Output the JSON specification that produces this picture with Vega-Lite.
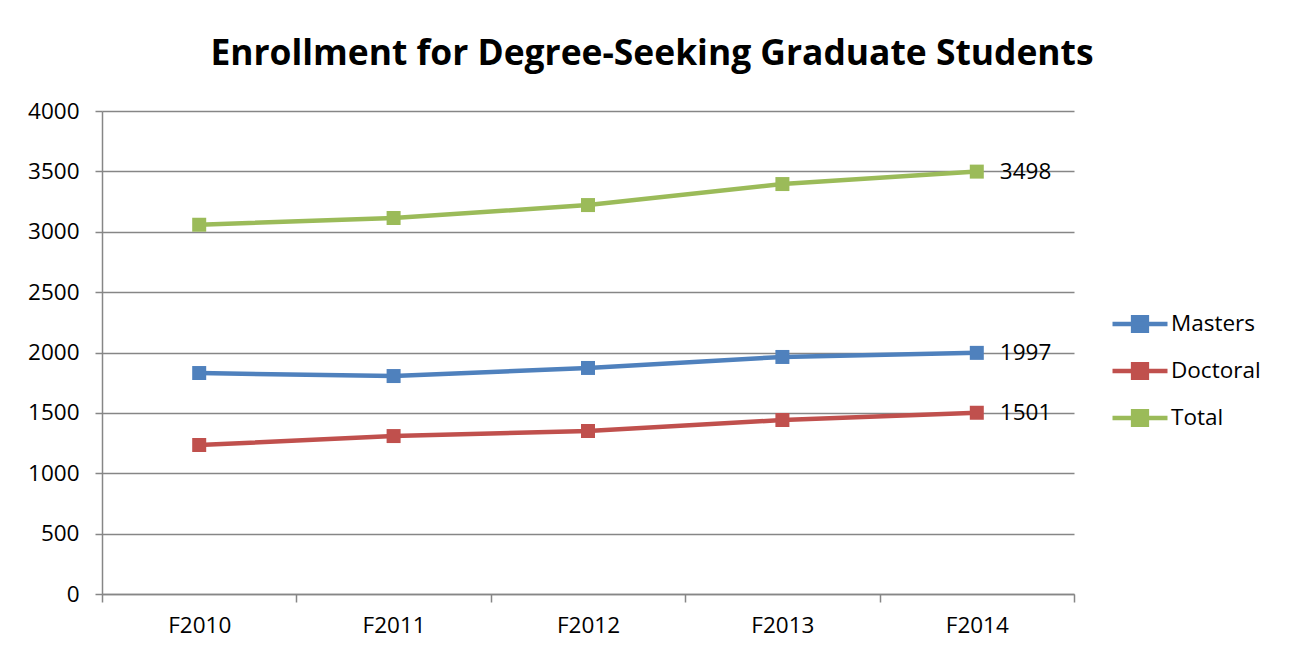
{
  "$schema": "https://vega.github.io/schema/vega-lite/v6.json",
  "autosize": "none",
  "width": 972,
  "height": 483,
  "padding": {"left": 102, "top": 111, "right": 226, "bottom": 65},
  "background": "white",
  "config": {
    "font": "Open Sans",
    "view": {"stroke": null},
    "axis": {
      "labelFont": "Open Sans",
      "labelFontSize": 22.5,
      "labelColor": "black",
      "domainColor": "#868686",
      "domainWidth": 1.5,
      "tickColor": "#868686",
      "tickWidth": 1.5,
      "gridColor": "#868686",
      "gridWidth": 1.5
    }
  },
  "title": {
    "text": "Enrollment for Degree-Seeking Graduate Students",
    "font": "Open Sans",
    "fontSize": 35.4,
    "fontWeight": "bold",
    "color": "black",
    "anchor": "middle",
    "dx": 64,
    "offset": 28
  },
  "data": {
    "values": [
      {"year": "F2010", "series": "Masters", "value": 1830},
      {"year": "F2011", "series": "Masters", "value": 1805},
      {"year": "F2012", "series": "Masters", "value": 1872},
      {"year": "F2013", "series": "Masters", "value": 1963},
      {"year": "F2014", "series": "Masters", "value": 1997},
      {"year": "F2010", "series": "Doctoral", "value": 1234},
      {"year": "F2011", "series": "Doctoral", "value": 1308},
      {"year": "F2012", "series": "Doctoral", "value": 1350},
      {"year": "F2013", "series": "Doctoral", "value": 1441},
      {"year": "F2014", "series": "Doctoral", "value": 1501},
      {"year": "F2010", "series": "Total", "value": 3058},
      {"year": "F2011", "series": "Total", "value": 3114},
      {"year": "F2012", "series": "Total", "value": 3221},
      {"year": "F2013", "series": "Total", "value": 3395},
      {"year": "F2014", "series": "Total", "value": 3498}
    ]
  },
  "encoding": {
    "x": {
      "field": "year",
      "type": "nominal",
      "title": null,
      "scale": {"type": "band", "paddingInner": 0, "paddingOuter": 0},
      "axis": {"labelAngle": 0, "tickBand": "extent", "tickSize": 8, "labelPadding": 12, "grid": false}
    },
    "y": {
      "field": "value",
      "type": "quantitative",
      "title": null,
      "scale": {"domain": [0, 4000], "nice": false},
      "axis": {"values": [0, 500, 1000, 1500, 2000, 2500, 3000, 3500, 4000], "format": "d", "tickSize": 7, "labelPadding": 16, "grid": true}
    },
    "color": {
      "field": "series",
      "type": "nominal",
      "sort": ["Masters", "Doctoral", "Total"],
      "scale": {"domain": ["Masters", "Doctoral", "Total"], "range": ["#4F81BD", "#C0504D", "#9BBB59"]},
      "legend": {
        "title": null,
        "orient": "none",
        "legendX": 1022,
        "legendY": 197,
        "padding": 0,
        "symbolType": "M-2,0L2,0M-0.5,-0.5L0.5,-0.5L0.5,0.5L-0.5,0.5Z",
        "symbolSize": 756,
        "symbolStrokeWidth": 4.5,
        "labelOffset": 15,
        "labelFont": "Open Sans",
        "labelFontSize": 22.5,
        "labelColor": "black",
        "rowPadding": 15,
        "labelLimit": 300,
        "encode": {
          "symbols": {
            "update": {
              "fill": {"scale": "color", "field": "value"},
              "stroke": {"scale": "color", "field": "value"},
              "opacity": {"value": 1},
              "fillOpacity": {"value": 1}
            }
          }
        }
      }
    }
  },
  "layer": [
    {"mark": {"type": "line", "strokeWidth": 4.5}},
    {"mark": {"type": "point", "shape": "square", "filled": true, "size": 196, "opacity": 1}},
    {
      "transform": [{"filter": "datum.year === 'F2014'"}],
      "mark": {"type": "text", "align": "left", "baseline": "middle", "dx": 23, "fontSize": 22.5, "font": "Open Sans", "color": "black"},
      "encoding": {"text": {"field": "value", "type": "quantitative", "format": "d"}, "color": {"value": "black"}}
    }
  ]
}
